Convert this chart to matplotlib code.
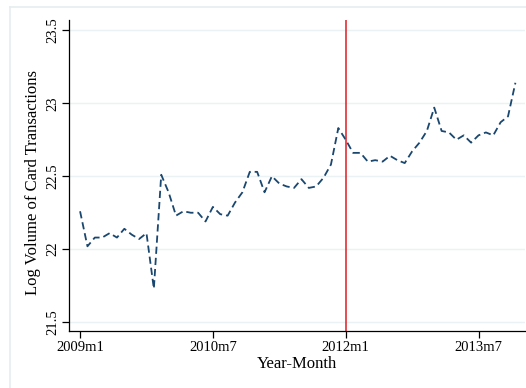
import numpy as np
import matplotlib
matplotlib.use("Agg")
import matplotlib.pyplot as plt
from matplotlib.lines import Line2D

# monthly log card volume, 2009m1 .. 2013m12
log_volume = [
    22.26, 22.02, 22.08, 22.08, 22.11, 22.08, 22.14, 22.10, 22.07, 22.11,
    21.73, 22.51, 22.39, 22.23, 22.26, 22.25, 22.25, 22.19, 22.29, 22.24,
    22.23, 22.32, 22.39, 22.53, 22.53, 22.39, 22.50, 22.45, 22.43, 22.42,
    22.48, 22.42, 22.43, 22.49, 22.58, 22.83, 22.75, 22.66, 22.66, 22.60,
    22.61, 22.60, 22.64, 22.61, 22.59, 22.67, 22.73, 22.81, 22.97, 22.81,
    22.80, 22.75, 22.78, 22.73, 22.78, 22.80, 22.78, 22.87, 22.91, 23.14,
]
tick_months = [0, 18, 36, 54]
tick_labels = ["2009m1", "2010m7", "2012m1", "2013m7"]
y_ticks = [21.5, 22, 22.5, 23, 23.5]
y_labels = ["21.5", "22", "22.5", "23", "23.5"]
event_month = 36

plt.rcParams['font.family'] = ['Liberation Serif', 'DejaVu Serif']

fig = plt.figure(figsize=(5.26, 3.88), dpi=100)
ax = fig.add_axes([69/526, 57/388, 456/526, 311/388])

months = np.arange(len(log_volume))
ax.plot(months, log_volume, color='#1a476f', lw=1.3, ls=(0, (4, 2.2)))
ax.axvline(event_month, color='#e01b22', lw=1.1)

ax.set_xlim(-1.5, 60.3)
ax.set_ylim(21.44, 23.57)
ax.set_xticks(tick_months)
ax.set_xticklabels(tick_labels, fontsize=10.5)
ax.set_yticks(y_ticks)
ax.set_yticklabels(y_labels, fontsize=10.5, rotation=90, va='center')
ax.grid(axis='y', color='#eaf2f3', lw=1)
ax.set_axisbelow(True)
for s in ['top', 'right']:
    ax.spines[s].set_visible(False)
for s in ['left', 'bottom']:
    ax.spines[s].set_linewidth(0.9)
ax.tick_params(length=5, width=0.9, pad=2)
ax.set_xlabel("Year-Month", fontsize=12, labelpad=2)
ax.set_ylabel("Log Volume of Card Transactions", fontsize=12, labelpad=4, y=0.476)

# outer graph-region frame
fig.add_artist(Line2D([10/526, 1], [1 - 7/388, 1 - 7/388], transform=fig.transFigure, color='#e6ecef', lw=1.2))
fig.add_artist(Line2D([10/526, 10/526], [0, 1 - 7/388], transform=fig.transFigure, color='#e6ecef', lw=1.2))

fig.savefig("out.png", dpi=100)
